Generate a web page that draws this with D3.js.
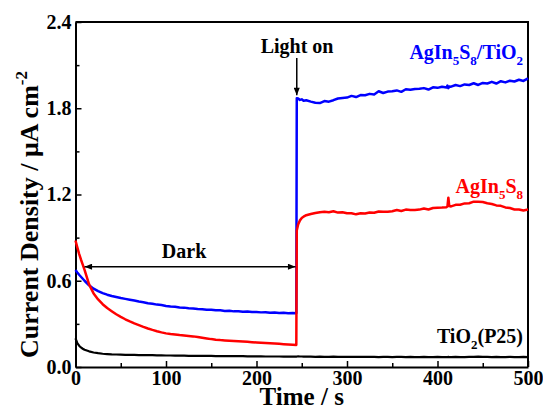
<!DOCTYPE html>
<html>
<head>
<meta charset="utf-8">
<script src="https://cdn.jsdelivr.net/npm/d3@7"></script>
<style>
  body { margin: 0; background: #fff; }
  svg text { font-family: "Liberation Serif", "Times New Roman", serif; font-weight: bold; }
</style>
</head>
<body>
<svg id="chart" width="543" height="411"></svg>
<script>
// Time samples (s): dark period, then illuminated period
const tDark = [0,2,4,6,8,10,15,20,25,30,35,40,45,50,55,60,65,70,75,80,85,90,95,100,105,110,115,120,125,130,135,140,145,150,155,160,165,170,175,180,185,190,195,200,205,210,215,220,225,230,235,240,244];
const tLight = [244.5,246,248,250,252,255,260,265,270,275,280,285,290,295,300,305,310,315,320,325,330,335,340,345,350,355,360,365,370,375,380,385,390,395,400,405,410,411,412,413,415,420,425,430,435,440,445,450,455,460,465,470,475,480,485,490,495,500];

// Current density (µA cm^-2), AgIn5S8/TiO2
const compositeDark = [0.675,0.658,0.642,0.628,0.614,0.600,0.568,0.545,0.528,0.514,
  0.503,0.494,0.487,0.480,0.474,0.468,0.462,0.455,0.451,0.444,
  0.440,0.434,0.431,0.425,0.421,0.419,0.414,0.413,0.408,0.407,
  0.403,0.402,0.398,0.399,0.395,0.394,0.390,0.391,0.387,0.388,
  0.384,0.386,0.382,0.383,0.380,0.381,0.377,0.379,0.375,0.377,
  0.374,0.376,0.374];
const compositeLight = [1.870,1.868,1.858,1.862,1.852,1.856,
  1.846,1.838,1.836,1.850,1.846,1.856,1.868,1.872,1.874,1.886,
  1.878,1.892,1.890,1.900,1.896,1.918,1.906,1.916,1.918,1.924,
  1.914,1.932,1.928,1.934,1.936,1.940,1.930,1.946,1.942,1.950,
  1.944,1.958,1.940,1.952,
  1.950,1.962,1.954,1.966,1.962,1.974,1.962,1.976,1.972,1.984,
  1.972,1.988,1.980,1.992,1.986,1.998,1.990,2.008];

// AgIn5S8
const sulfideDark = [0.880,0.832,0.787,0.748,0.712,0.676,0.575,0.512,0.470,0.437,
  0.410,0.388,0.367,0.349,0.332,0.317,0.303,0.291,0.279,0.268,
  0.258,0.249,0.241,0.234,0.229,0.226,0.222,0.219,0.216,0.213,
  0.209,0.204,0.199,0.194,0.190,0.187,0.185,0.183,0.181,0.179,
  0.177,0.175,0.173,0.171,0.169,0.167,0.165,0.163,0.161,0.159,
  0.157,0.155,0.153];
const sulfideLight = [0.950,0.992,1.020,1.036,1.046,1.056,
  1.064,1.071,1.077,1.080,1.076,1.083,1.074,1.077,1.069,1.070,
  1.062,1.069,1.068,1.075,1.073,1.082,1.080,1.080,1.084,1.092,
  1.085,1.095,1.093,1.092,1.095,1.103,1.096,1.106,1.108,1.109,
  1.112,1.118,1.178,1.120,
  1.117,1.128,1.129,1.138,1.139,1.150,1.150,1.148,1.139,1.134,
  1.124,1.121,1.110,1.106,1.096,1.096,1.089,1.095];

// TiO2 (P25)
const p25Dark = [0.200,0.166,0.148,0.136,0.127,0.120,0.109,0.101,0.096,0.092,
  0.090,0.088,0.087,0.086,0.085,0.084,0.084,0.083,0.083,0.082,
  0.082,0.081,0.081,0.080,0.080,0.079,0.079,0.079,0.078,0.078,
  0.078,0.077,0.077,0.077,0.076,0.076,0.076,0.075,0.075,0.075,
  0.075,0.074,0.074,0.074,0.074,0.073,0.073,0.073,0.073,0.072,
  0.072,0.072,0.072];
const p25Light = [0.073,0.074,0.073,0.073,0.072,0.072,
  0.072,0.071,0.072,0.071,0.071,0.072,0.070,0.071,0.071,0.070,
  0.071,0.070,0.070,0.071,0.070,0.069,0.070,0.070,0.069,0.070,
  0.070,0.069,0.070,0.069,0.069,0.070,0.069,0.069,0.070,0.069,
  0.069,0.069,0.070,0.069,
  0.069,0.070,0.069,0.069,0.070,0.071,0.072,0.071,0.070,0.069,
  0.070,0.069,0.069,0.070,0.069,0.069,0.070,0.069];

// Axis ticks
const xTicks = [0,100,200,300,400,500];
const xMinorTicks = [50,150,250,350,450];
const yTicks = [0,0.6,1.2,1.8,2.4];
const yMinorTicks = [0.3,0.9,1.5,2.1];

const svg = d3.select("#chart");
const x = d3.scaleLinear().domain([0, 500]).range([75.5, 528]);
const y = d3.scaleLinear().domain([0, 2.4]).range([367, 22]);

const tAll = tDark.concat(tLight);
const series = [
  { name: "p25", color: "#000000", width: 2.2, values: p25Dark.concat(p25Light) },
  { name: "composite", color: "#0000ff", width: 2.5, values: compositeDark.concat(compositeLight) },
  { name: "sulfide", color: "#ff0000", width: 2.5, values: sulfideDark.concat(sulfideLight) }
];

// Frame (top and right edges)
svg.append("path")
  .attr("d", `M${x(0)},${y(2.4)}H${x(500)}V${y(0)}`)
  .attr("fill", "none").attr("stroke", "#000").attr("stroke-width", 2);

// Axes with inward ticks
svg.append("g").attr("transform", `translate(0,${y(0)})`)
  .call(d3.axisBottom(x).tickValues(xTicks).tickFormat(d3.format("d"))
    .tickSize(-6).tickSizeOuter(0).tickPadding(4));
svg.append("g").attr("transform", `translate(0,${y(0)})`)
  .call(d3.axisBottom(x).tickValues(xMinorTicks).tickFormat("").tickSize(-4).tickSizeOuter(0))
  .call(g => g.select(".domain").remove());

svg.append("g").attr("transform", `translate(${x(0)},0)`)
  .call(d3.axisLeft(y).tickValues(yTicks).tickFormat(d3.format(".1f"))
    .tickSize(-6).tickSizeOuter(0).tickPadding(4));
svg.append("g").attr("transform", `translate(${x(0)},0)`)
  .call(d3.axisLeft(y).tickValues(yMinorTicks).tickFormat("").tickSize(-4).tickSizeOuter(0))
  .call(g => g.select(".domain").remove());

svg.selectAll(".domain").attr("stroke", "#000").attr("stroke-width", 2);
svg.selectAll(".tick line").attr("stroke", "#000").attr("stroke-width", 1.5);
svg.selectAll(".tick text")
  .attr("fill", "#000")
  .style("font-size", "20px")
  .style("font-family", "'Liberation Serif','Times New Roman',serif")
  .style("font-weight", "bold");

// Data lines
const line = d3.line().x(d => x(d[0])).y(d => y(d[1]));
series.forEach(s => {
  svg.append("path")
    .datum(tAll.map((t, i) => [t, s.values[i]]))
    .attr("class", "series " + s.name)
    .attr("fill", "none")
    .attr("stroke", s.color)
    .attr("stroke-width", s.width)
    .attr("stroke-linejoin", "round")
    .attr("d", line);
});

// Arrowhead marker
const defs = svg.append("defs");
defs.append("marker")
  .attr("id", "head")
  .attr("viewBox", "0 0 10 8")
  .attr("refX", 10).attr("refY", 4)
  .attr("markerWidth", 9).attr("markerHeight", 6)
  .attr("markerUnits", "userSpaceOnUse")
  .attr("orient", "auto-start-reverse")
  .append("path").attr("d", "M0,0L10,4L0,8Z").attr("fill", "#000");

// "Light on" annotation
svg.append("line")
  .attr("x1", x(244.5)).attr("x2", x(244.5))
  .attr("y1", y(2.15)).attr("y2", y(1.89))
  .attr("stroke", "#000").attr("stroke-width", 1.5)
  .attr("marker-end", "url(#head)");
svg.append("text")
  .attr("x", x(244.8)).attr("y", y(2.186))
  .attr("text-anchor", "middle").style("font-size", "20px").attr("fill", "#000")
  .text("Light on");

// "Dark" annotation with double arrow
svg.append("line")
  .attr("x1", x(10)).attr("x2", x(243))
  .attr("y1", y(0.698)).attr("y2", y(0.698))
  .attr("stroke", "#000").attr("stroke-width", 1.5)
  .attr("marker-start", "url(#head)")
  .attr("marker-end", "url(#head)");
svg.append("text")
  .attr("x", x(120)).attr("y", y(0.758))
  .attr("text-anchor", "middle").style("font-size", "20px").attr("fill", "#000")
  .text("Dark");

// Series labels with subscripts
function chemLabel(parts, xPos, yPos, color) {
  const t = svg.append("text")
    .attr("x", xPos).attr("y", yPos)
    .attr("text-anchor", "end")
    .style("font-size", "20px")
    .attr("fill", color);
  let shifted = false;
  parts.forEach(p => {
    const sub = p.startsWith("_");
    const ts = t.append("tspan").text(sub ? p.slice(1) : p);
    if (sub) {
      ts.style("font-size", "13px").attr("dy", shifted ? 0 : 6);
      shifted = true;
    } else {
      if (shifted) ts.attr("dy", -6);
      shifted = false;
    }
  });
  return t;
}
chemLabel(["AgIn", "_5", "S", "_8", "/TiO", "_2"], x(494.5), y(2.14), "#0000ff");
chemLabel(["AgIn", "_5", "S", "_8"], x(494.5), y(1.21), "#ff0000");
chemLabel(["TiO", "_2", "(P25)"], x(494.5), y(0.165), "#000000");

// Axis titles
svg.append("text")
  .attr("x", (x(0) + x(500)) / 2).attr("y", 405)
  .attr("text-anchor", "middle").style("font-size", "25px").attr("fill", "#000")
  .text("Time / s");

const yt = svg.append("text")
  .attr("transform", `translate(38,358) rotate(-90)`)
  .attr("text-anchor", "start").style("font-size", "26px").attr("fill", "#000");
yt.append("tspan").text("Current Density / μA cm");
yt.append("tspan").attr("dy", -11).style("font-size", "17px").text("-2");
</script>
</body>
</html>
